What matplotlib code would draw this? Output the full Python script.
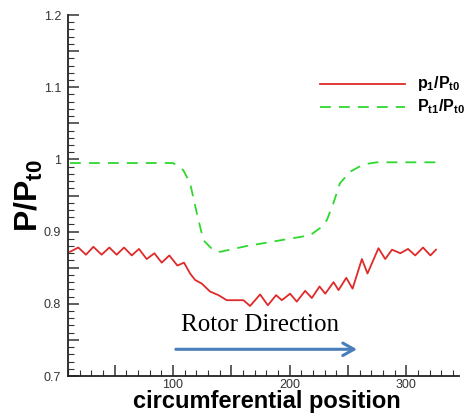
import matplotlib.pyplot as plt
from matplotlib.ticker import MultipleLocator, FuncFormatter

plt.rcParams['font.family'] = ['Liberation Sans', 'DejaVu Sans']
plt.rcParams['mathtext.fontset'] = 'custom'
plt.rcParams['mathtext.rm'] = 'Liberation Sans'
plt.rcParams['mathtext.bf'] = 'Liberation Sans:bold'

p1_x = [11.7, 18.8, 25.4, 31.7, 38.8, 45.4, 51.7, 58.0, 64.6, 70.8, 77.4, 84.0,
        90.3, 96.8, 103.7, 109.4, 114.6, 118.9, 124.6, 131.7, 138.9, 146.0,
        160.3, 166.0, 174.6, 181.2, 188.3, 193.2, 200.3, 206.0, 213.2, 218.9,
        225.5, 230.4, 237.5, 241.8, 248.4, 253.8, 261.8, 266.6, 276.0, 281.8,
        287.6, 294.7, 301.3, 307.5, 314.2, 320.5, 325.3]
p1_y = [0.872, 0.878, 0.868, 0.879, 0.868, 0.878, 0.868, 0.878, 0.867, 0.876,
        0.862, 0.870, 0.857, 0.867, 0.853, 0.857, 0.842, 0.833, 0.828, 0.817,
        0.812, 0.805, 0.805, 0.797, 0.813, 0.798, 0.812, 0.805, 0.814, 0.803,
        0.818, 0.808, 0.824, 0.814, 0.830, 0.819, 0.836, 0.821, 0.862, 0.842,
        0.877, 0.862, 0.875, 0.870, 0.876, 0.867, 0.878, 0.867, 0.875]

# total pressure Pt1/Pt0
pt1_x = [11.7, 100.0, 108.8, 114.6, 120.3, 126.0, 134.6, 140.3, 163.0, 203.0,
         217.5, 226.0, 231.8, 237.5, 243.0, 251.8, 263.0, 274.7, 326.0]
pt1_y = [0.995, 0.995, 0.985, 0.967, 0.926, 0.888, 0.874, 0.872, 0.880, 0.891,
         0.895, 0.905, 0.916, 0.940, 0.967, 0.983, 0.993, 0.996, 0.996]

labels = [r'$\mathbf{p_1/P_{t0}}$', r'$\mathbf{P_{t1}/P_{t0}}$']
red = '#e02a2a'
green = '#2ed82e'
dash = (6, 4.5)

fig = plt.figure(figsize=(4.7, 4.17), dpi=100)
ax = fig.add_axes([0.1447, 0.0983, 0.8319, 0.8657])

ax.plot(p1_x, p1_y, color=red, lw=1.3)
ax.plot(pt1_x, pt1_y, color=green, lw=1.3, dashes=dash)

ax.set_xlim(10, 345)
ax.set_ylim(0.7, 1.2)

for s in ['top', 'right']:
    ax.spines[s].set_visible(False)
for s in ['left', 'bottom']:
    ax.spines[s].set_linewidth(1.3)
    ax.spines[s].set_color('#222222')

ax.xaxis.set_major_locator(MultipleLocator(50))
ax.xaxis.set_minor_locator(MultipleLocator(10))
ax.yaxis.set_major_locator(MultipleLocator(0.05))
ax.yaxis.set_minor_locator(MultipleLocator(0.01))


def xfmt(v, pos):
    return f'{v:g}' if round(v) % 100 == 0 else ''


def yfmt(v, pos):
    k = round(v * 100)
    return f'{v:g}' if k % 10 == 0 else ''


ax.xaxis.set_major_formatter(FuncFormatter(xfmt))
ax.yaxis.set_major_formatter(FuncFormatter(yfmt))
ax.tick_params(which='both', direction='in', colors='#333333', labelsize=9)
ax.tick_params(which='major', length=8, width=1.1)
ax.tick_params(which='minor', length=4, width=0.8)
ax.tick_params(axis='x', pad=2)
ax.tick_params(axis='y', pad=5)

fig.text(0.568, 0.022, 'circumferential position', fontsize=17,
         fontweight='bold', ha='center', va='baseline')
ax.set_ylabel(r'$\mathbf{P/P_{t0}}$', fontsize=23)
ax.yaxis.set_label_coords(-0.058, 0.5)

# legend drawn by hand so the rows sit where the reference has them
leg_y = [0.809, 0.745]
ax.plot([0.645, 0.862], [leg_y[0]] * 2, color=red, lw=1.3, transform=ax.transAxes)
ax.plot([0.645, 0.862], [leg_y[1]] * 2, color=green, lw=1.3, dashes=dash,
        transform=ax.transAxes)
for lab, yy in zip(labels, leg_y):
    ax.text(0.893, yy, lab, fontsize=11.5, ha='left', va='center',
            transform=ax.transAxes)

ax.text(174.6, 0.771, 'Rotor Direction', family='Liberation Serif', fontsize=18,
        ha='center', va='center')
ax.annotate('', xy=(260, 0.737), xytext=(100, 0.737),
            arrowprops=dict(arrowstyle='->,head_length=0.8,head_width=0.45',
                            color='#4a7ebb', lw=2.2))

fig.savefig('out.png', dpi=100)
